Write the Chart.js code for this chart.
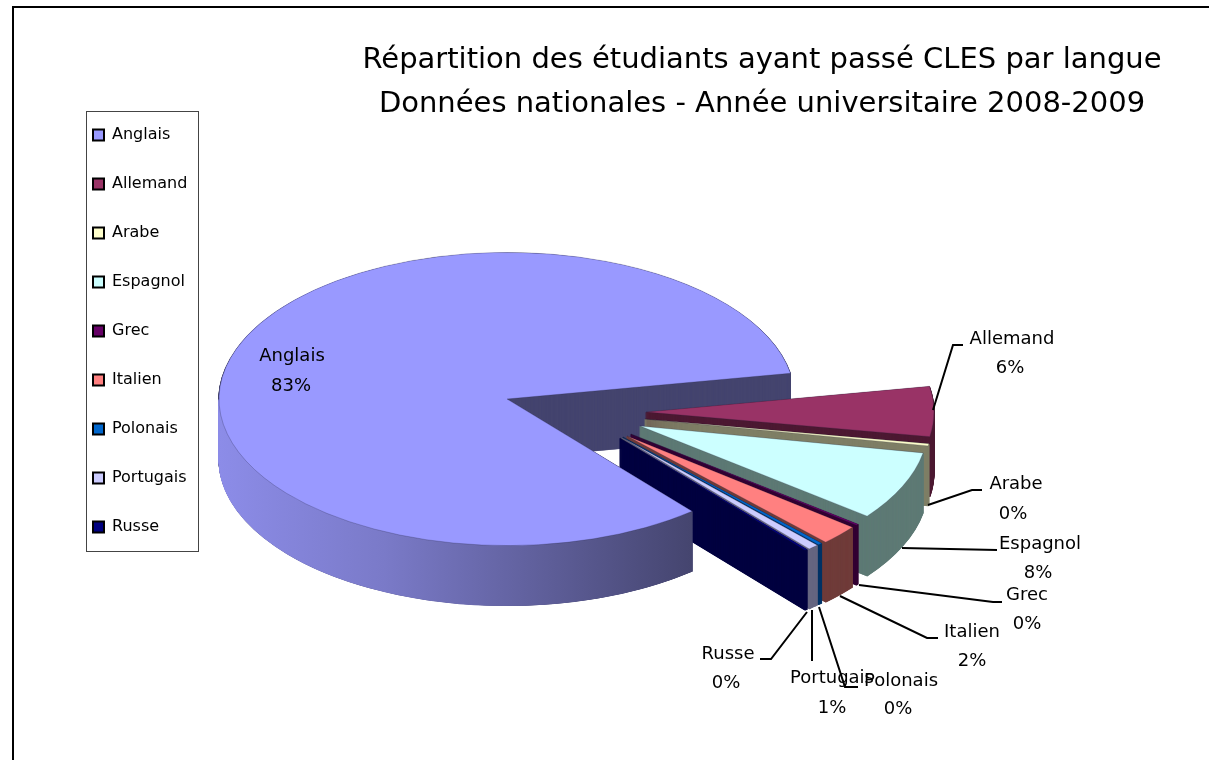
<!DOCTYPE html>
<html><head><meta charset="utf-8">
<style>html,body{margin:0;padding:0;background:#fff;overflow:hidden}canvas{display:block}</style>
<script src="https://cdn.jsdelivr.net/npm/chart.js@4/dist/chart.umd.min.js"></script>
</head><body><canvas id="c" width="1209" height="760"></canvas>
<script>
const titleLines = ["Répartition des étudiants ayant passé CLES par langue","Données nationales - Année universitaire 2008-2009"];
const categories = ["Anglais","Allemand","Arabe","Espagnol","Grec","Italien","Polonais","Portugais","Russe"];
const values = [83.3,5.5,0.25,7.6,0.15,2.2,0.25,0.6,0.15];
const colors = ["#9999FF","#993366","#FFFFCC","#CCFFFF","#660066","#FF8080","#0066CC","#CCCCFF","#000080"];
const sideColors = ["#45456F","#4D1A33","#7F7F66","#5E7A75","#330033","#703C3A","#003366","#666680","#000040"];

// layout (pixels) – not data
const FONT = '"DejaVu Sans"';
const pie = {cx:507, cy:399, r:286, tilt:0.509, depth:60, rotation:140};
const explode = [[0,0],[139,13],[138,20],[133,27],[124,35],[120,37],[116,38],[115,38.5],[113,39]];
const legendBox = {left:86, top:111, right:198, bottom:551};
const labelPos = [[292,356,291,386],[1012,339,1010,368],[1016,484,1013,514],[1040,544,1038,573],[1027,595,1027,624],[972,632,972,661],[901,681,898,709],[832,678,832,708],[728,654,726,683]];
const leaders = [null,
 [[933,410],[953,345],[963,345]],
 [[928,505],[972,490],[982,490]],
 [[902,548],[997,550]],
 [[859,585],[993,602],[1002,602]],
 [[840,596],[927,638],[938,638]],
 [[819,607],[845,687],[858,687]],
 [[812,610],[812,661]],
 [[807,612],[771,659],[760,659]]];

function flat(color, bw, stroke){
  return {backgroundColor:color,borderColor:stroke||color,borderWidth:bw||0,borderAlign:'center',borderRadius:0,offset:0,spacing:0,circular:true,selfJoin:false,borderJoinStyle:'round',borderDash:[],borderDashOffset:0};
}
function drawAt(ctx,arc,i,dy,opts){
  const saved = arc.options;
  arc.options = opts;
  ctx.save();
  ctx.translate(explode[i][0], explode[i][1]+dy);
  ctx.translate(arc.x,arc.y);
  ctx.scale(1,pie.tilt);
  ctx.translate(-arc.x,-arc.y);
  arc.draw(ctx);
  ctx.restore();
  arc.options = saved;
}
function extrude(ctx,arc,i,color){
  for(let d=pie.depth;d>=0.5;d-=0.5) drawAt(ctx,arc,i,d,flat(color,1.2,color));
}
const pie3d = {
  id:'pie3d',
  afterLayout(chart){
    const a = {left:pie.cx-pie.r-2, right:pie.cx+pie.r+2, top:pie.cy-pie.r-2, bottom:pie.cy+pie.r+2};
    a.width=a.right-a.left; a.height=a.bottom-a.top;
    chart.chartArea = a;
    const lg = chart.legend;
    lg.left=60; lg.right=legendBox.right; lg.top=94; lg.bottom=legendBox.bottom+60;
    lg.width=lg.right-lg.left; lg.height=lg.bottom-lg.top;
    const t = chart.titleBlock;
    t.left=262; t.right=1262; t.top=38; t.bottom=126; t.width=1000; t.height=88;
  },
  beforeDraw(chart){
    const ctx=chart.ctx;
    ctx.save();
    ctx.strokeStyle='#000'; ctx.lineWidth=2;
    ctx.beginPath(); ctx.moveTo(13,760); ctx.lineTo(13,7); ctx.lineTo(1209,7); ctx.stroke();
    ctx.strokeStyle='#444'; ctx.lineWidth=1;
    ctx.strokeRect(legendBox.left+.5,legendBox.top+.5,legendBox.right-legendBox.left,legendBox.bottom-legendBox.top);
    ctx.restore();
  },
  beforeDatasetsDraw(chart){
    const ctx=chart.ctx, arcs=chart.getDatasetMeta(0).data, main=arcs[0];
    const edge='rgba(20,20,50,.3)';
    // back wall of the main slice
    extrude(ctx,main,0,sideColors[0]);
    // exploded slices, back to front
    for(let i=1;i<arcs.length;i++){
      extrude(ctx,arcs[i],i,sideColors[i]);
      drawAt(ctx,arcs[i],i,0,flat(colors[i],1,edge));
    }
    // front rim of the main slice, over the exploded ones
    const s={a:main.startAngle,b:main.endAngle,c:main.circumference};
    main.endAngle=Math.PI; main.circumference=main.endAngle-main.startAngle;
    const g=ctx.createLinearGradient(main.x-main.outerRadius,0,main.x+main.outerRadius*0.64,0);
    g.addColorStop(0,'#8C8CE8'); g.addColorStop(0.35,'#7A7AC8'); g.addColorStop(1,sideColors[0]);
    extrude(ctx,main,0,g);
    main.startAngle=s.a; main.endAngle=s.b; main.circumference=s.c;
    drawAt(ctx,main,0,0,flat(colors[0],1,edge));
    return false;
  },
  afterDraw(chart){
    const ctx=chart.ctx;
    ctx.save();
    ctx.strokeStyle='#000'; ctx.lineWidth=2; ctx.lineJoin='miter';
    leaders.forEach(p=>{ if(!p) return;
      ctx.beginPath(); p.forEach((q,j)=>j?ctx.lineTo(q[0],q[1]):ctx.moveTo(q[0],q[1])); ctx.stroke();
    });
    ctx.fillStyle='#000'; ctx.font='18px '+FONT; ctx.textAlign='center'; ctx.textBaseline='middle';
    categories.forEach((name,i)=>{
      const p=labelPos[i];
      ctx.fillText(name,p[0],p[1]);
      ctx.fillText(Math.round(values[i])+'%',p[2],p[3]);
    });
    ctx.restore();
  }
};
new Chart(document.getElementById('c'),{
  type:'pie',
  data:{labels:categories,datasets:[{data:values,backgroundColor:colors,borderColor:'#000',borderWidth:0,hoverBorderWidth:0,hoverOffset:0}]},
  plugins:[pie3d],
  options:{
    responsive:false,animation:false,rotation:pie.rotation,
    events:[],
    plugins:{
      tooltip:{enabled:false},
      title:{display:true,text:titleLines,color:'#000',padding:0,font:{family:FONT,size:29,weight:'normal',lineHeight:44/29}},
      legend:{position:'left',align:'start',labels:{
        color:'#000',boxWidth:11,boxHeight:11,padding:33,font:{family:FONT,size:16},
        generateLabels(chart){
          return Chart.overrides.pie.plugins.legend.labels.generateLabels(chart).map(l=>Object.assign(l,{strokeStyle:'#000',lineWidth:2}));
        }
      }}
    }
  }
});
</script></body></html>
